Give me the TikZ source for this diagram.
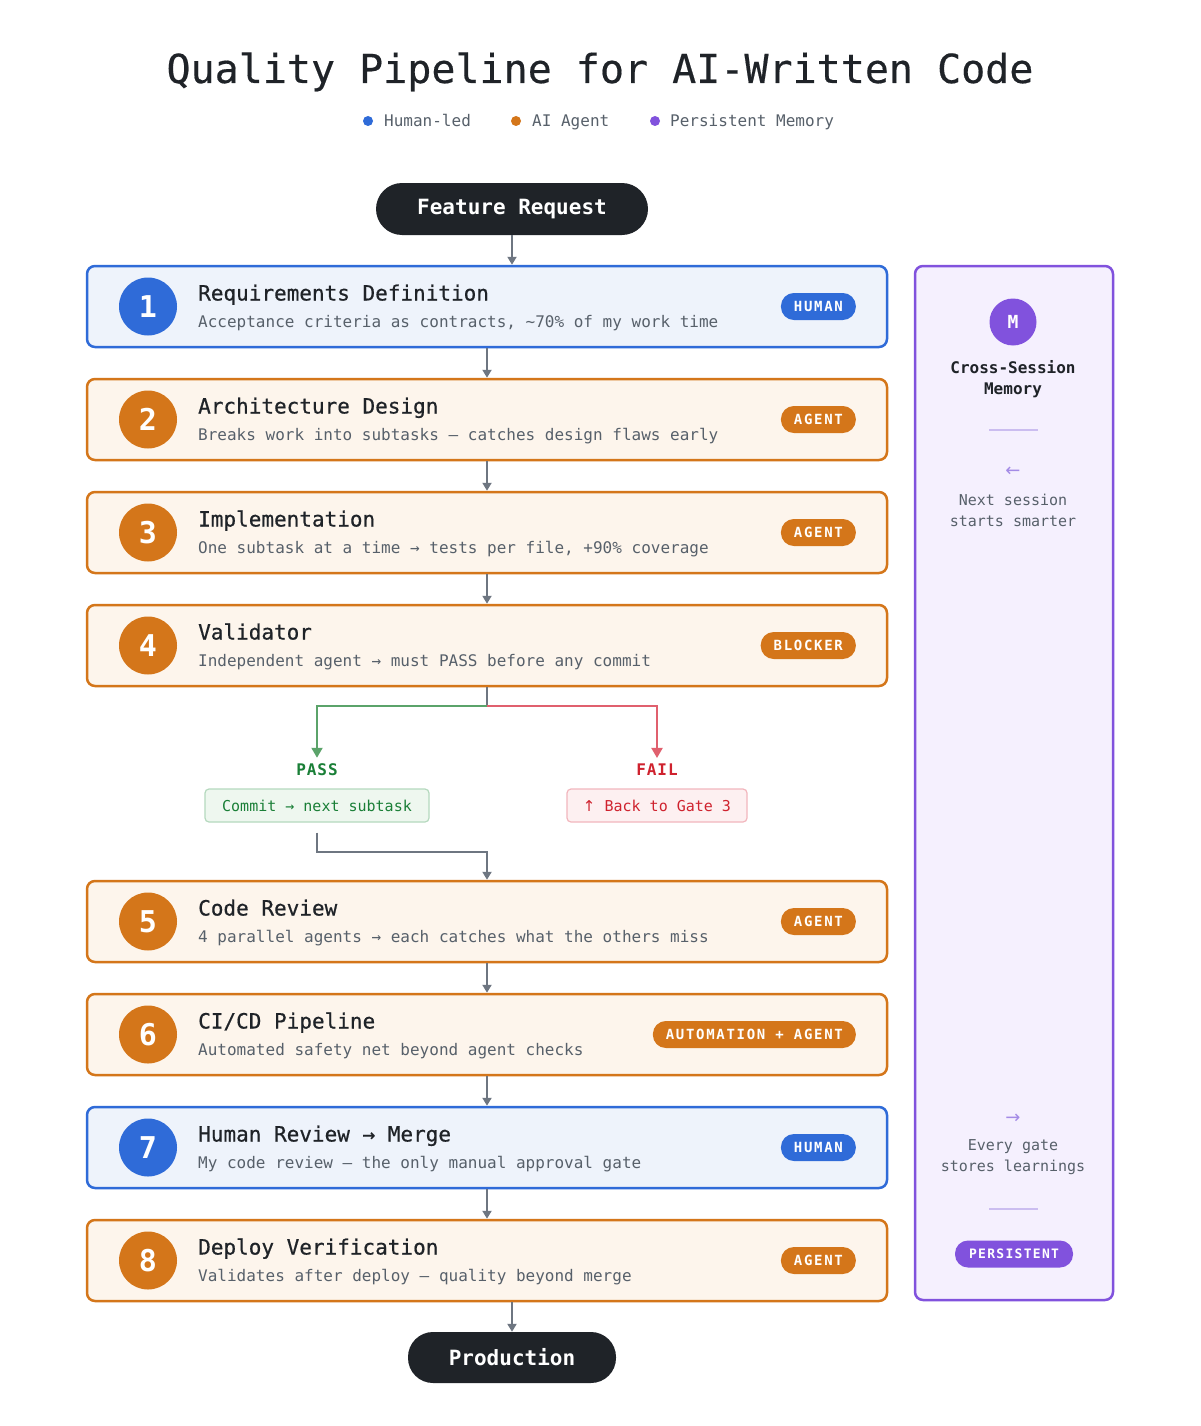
\documentclass[tikz,border=0pt]{standalone}
\usepackage{fontspec}
\setmainfont{DejaVu Sans Mono}
\setmonofont{DejaVu Sans Mono}
\newfontfamily\arrowfont{DejaVu Sans}
\usetikzlibrary{arrows.meta,calc}
\definecolor{human}{HTML}{2F6BD8}
\definecolor{humanfill}{HTML}{EEF3FB}
\definecolor{agent}{HTML}{D4761A}
\definecolor{agentfill}{HTML}{FDF5EC}
\definecolor{mem}{HTML}{8152DD}
\definecolor{memfill}{HTML}{F5F0FE}
\definecolor{memsoft}{HTML}{A48BE6}
\definecolor{memline}{HTML}{CBBDF0}
\definecolor{ink}{HTML}{1F2328}
\definecolor{subink}{HTML}{57606A}
\definecolor{arrowgray}{HTML}{6E7681}
\definecolor{passline}{HTML}{5BA36A}
\definecolor{passtext}{HTML}{1A7F37}
\definecolor{passfill}{HTML}{EEF7EF}
\definecolor{passborder}{HTML}{B5D9BE}
\definecolor{failline}{HTML}{E0606E}
\definecolor{failtext}{HTML}{CF222E}
\definecolor{failfill}{HTML}{FDF0F1}
\definecolor{failborder}{HTML}{F2B6BD}
\newcommand\fs[2]{\fontsize{#1}{#2}\selectfont}
\newcommand\pstep[6]{%
  \node[stepbox, draw=#6, fill=#6fill] (b#2) at (487,#1) {};
  \node[numcirc, fill=#6] (n#2) at (148,#1) {#2};
  \node[steptitle, anchor=base west] (t#2) at (198,#1-6) {#3};
  \node[stepsub, anchor=base west] (s#2) at (198,#1+21) {#4};
  \node[badge, fill=#6, anchor=east] (g#2) at (856,#1) {#5};
}
\begin{document}
\begin{tikzpicture}[x=1pt,y=-1pt,
  stepbox/.style={line width=2.5pt, rounded corners=8pt, minimum width=800pt, minimum height=81pt, inner sep=0pt},
  numcirc/.style={circle, minimum size=58pt, inner sep=0pt, text=white, font=\fs{30}{34}\bfseries},
  steptitle/.style={inner sep=0pt, text=ink, font=\fs{21}{24}\addfontfeature{FakeBold=0.6}},
  stepsub/.style={inner sep=0pt, text=subink, font=\fs{16}{19}},
  badge/.style={rounded corners=13pt, minimum height=27pt, inner xsep=13pt, inner ysep=0pt, text=white, font=\fs{14}{16}\bfseries\addfontfeature{LetterSpace=12}},
  pill/.style={fill=ink, text=white, font=\fs{21}{24}\bfseries, inner sep=0pt},
  flow/.style={draw=arrowgray, line width=2pt, -{Triangle[length=8pt,width=9pt]}},
  branch/.style={line width=2pt, -{Triangle[length=10pt,width=11pt]}},
  legtext/.style={anchor=base west, inner sep=0pt, text=subink, font=\fs{16}{19}},
  memtext/.style={align=center, inner sep=0pt, text=subink, font=\fs{15}{21}}
]
\useasboundingbox[fill=white] (0,0) rectangle (1200,1426);

% title and legend
\node[text=ink, font=\fs{40}{44}\addfontfeature{FakeBold=0.4}, inner sep=0pt, anchor=base] (title) at (600,83) {Quality Pipeline for AI-Written Code};
\fill[human] (368,121) circle (5pt);
\node[legtext] (lh) at (384,127) {Human-led};
\fill[agent] (516,121) circle (5pt);
\node[legtext] (la) at (532,127) {AI Agent};
\fill[mem] (655,121) circle (5pt);
\node[legtext] (lm) at (670,127) {Persistent Memory};

% start and end pills
\node[pill, rounded corners=26pt, minimum width=272pt, minimum height=52pt] (fr) at (512,209) {Feature Request};
\node[pill, rounded corners=25pt, minimum width=208pt, minimum height=51pt] (prod) at (512,1357.5) {Production};

% steps
\pstep{306.5}{1}{Requirements Definition}{Acceptance criteria as contracts, \char"007E 70\% of my work time}{HUMAN}{human}
\pstep{419.5}{2}{Architecture Design}{Breaks work into subtasks — catches design flaws early}{AGENT}{agent}
\pstep{532.5}{3}{Implementation}{One subtask at a time → tests per file, +90\% coverage}{AGENT}{agent}
\pstep{645.5}{4}{Validator}{Independent agent → must PASS before any commit}{BLOCKER}{agent}
\pstep{921.5}{5}{Code Review}{4 parallel agents → each catches what the others miss}{AGENT}{agent}
\pstep{1034.5}{6}{CI/CD Pipeline}{Automated safety net beyond agent checks}{AUTOMATION + AGENT}{agent}
\pstep{1147.5}{7}{Human Review → Merge}{My code review — the only manual approval gate}{HUMAN}{human}
\pstep{1260.5}{8}{Deploy Verification}{Validates after deploy — quality beyond merge}{AGENT}{agent}

% main flow arrows
\draw[flow] (fr.south) -- (fr.south |- b1.north);
\draw[flow] (b1.south) -- (b2.north);
\draw[flow] (b2.south) -- (b3.north);
\draw[flow] (b3.south) -- (b4.north);
\draw[flow] (b5.south) -- (b6.north);
\draw[flow] (b6.south) -- (b7.north);
\draw[flow] (b7.south) -- (b8.north);
\draw[flow] (prod.north |- b8.south) -- (prod.north);

% validator branch
\coordinate (split) at (487,706);
\node[inner sep=0pt, text=passtext, font=\fs{16}{19}\bfseries\addfontfeature{LetterSpace=6}] (passlbl) at (317,770) {PASS};
\node[inner sep=0pt, text=failtext, font=\fs{16}{19}\bfseries\addfontfeature{LetterSpace=6}] (faillbl) at (657,770) {FAIL};
\draw[draw=arrowgray, line width=2pt] (b4.south) -- (split);
\draw[branch, draw=passline, shorten >=6pt] (split) -| (passlbl.north);
\draw[branch, draw=failline, shorten >=6pt] (split) -| (faillbl.north);
\node[draw=passborder, fill=passfill, line width=1.2pt, rounded corners=4pt, minimum width=224pt, minimum height=33pt, inner sep=0pt, text=passtext, font=\fs{15}{18}] (commit) at (317,805.5) {Commit → next subtask};
\node[draw=failborder, fill=failfill, line width=1.2pt, rounded corners=4pt, minimum width=180pt, minimum height=33pt, inner sep=0pt, text=failtext, font=\fs{15}{18}] (back) at (657,805.5) {{\arrowfont ↑} Back to Gate 3};
\coordinate (merge) at (487,852);
\draw[flow, shorten <=10pt] (commit.south) |- (merge) -- (b5.north);

% memory panel
\node[draw=mem, fill=memfill, line width=2.5pt, rounded corners=8pt, minimum width=198pt, minimum height=1034pt, inner sep=0pt] (panel) at (1014,783) {};
\node[circle, fill=mem, minimum size=47pt, inner sep=0pt, text=white, font=\fs{18}{20}\bfseries] (mc) at (1013,322) {M};
\node[align=center, inner sep=0pt, text=ink, font=\fs{16}{21}\bfseries] (mtitle) at (1013,379) {Cross-Session\\Memory};
\draw[memline, line width=1.2pt] (989,430) -- (1038,430);
\node[inner sep=0pt, text=memsoft, font=\arrowfont\fs{18}{20}] (larr) at (1013,472) {←};
\node[memtext] (mnext) at (1013,510) {Next session\\starts smarter};
\node[inner sep=0pt, text=memsoft, font=\arrowfont\fs{18}{20}] (rarr) at (1013,1119) {→};
\node[memtext] (mgate) at (1013,1157) {Every gate\\stores learnings};
\draw[memline, line width=1.2pt] (989,1209) -- (1038,1209);
\node[fill=mem, rounded corners=13pt, minimum width=118pt, minimum height=27pt, inner sep=0pt, text=white, font=\fs{13}{15}\bfseries\addfontfeature{LetterSpace=10}] (pers) at (1014,1254) {PERSISTENT};
\end{tikzpicture}
\end{document}
